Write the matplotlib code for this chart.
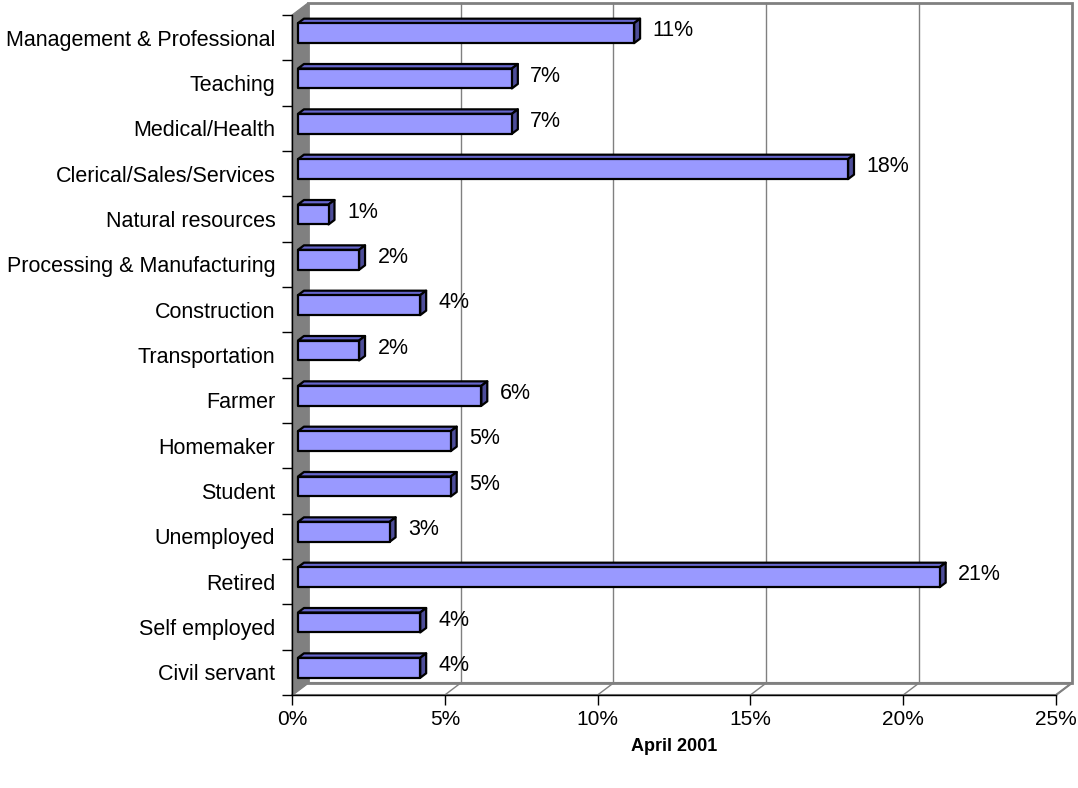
import matplotlib.pyplot as plt
from matplotlib.patches import Polygon

plt.rcParams['font.family'] = ['Liberation Sans', 'DejaVu Sans']

# categories listed bottom-to-top
categories = ["Civil servant", "Self employed", "Retired", "Unemployed", "Student",
              "Homemaker", "Farmer", "Transportation", "Construction",
              "Processing & Manufacturing", "Natural resources",
              "Clerical/Sales/Services", "Medical/Health", "Teaching",
              "Management & Professional"]
values = [4, 4, 21, 3, 5, 5, 6, 2, 4, 2, 1, 18, 7, 7, 11]
xticks = [0, 5, 10, 15, 20, 25]
xlabel = "April 2001"

# pseudo-3D depth offsets, in data units
DX, DY = 0.52, 0.265
D0, D1 = 0.375, 0.75
BAR_H = 0.44
XMAX = 25
N = len(categories)


def P(x, y, d):
    return (x + d * DX, y + d * DY)


fig = plt.figure(figsize=(10.78, 7.88), dpi=100)
ax = fig.add_axes([292 / 1078, 93 / 788, 764 / 1078, 680 / 788])
ax.set_xlim(0, XMAX)
ax.set_ylim(0, N)

grid_c = '#808080'
# left wall
ax.add_patch(Polygon([P(0, 0, 0), P(0, N, 0), P(0, N, 1), P(0, 0, 1)],
                     closed=True, facecolor='#808080', edgecolor='#808080',
                     lw=0.8, clip_on=False, zorder=1))
# floor
ax.add_patch(Polygon([P(0, 0, 0), P(XMAX, 0, 0), P(XMAX, 0, 1), P(0, 0, 1)],
                     closed=True, facecolor='white', edgecolor=grid_c,
                     lw=1.5, clip_on=False, zorder=1))
# back wall
ax.add_patch(Polygon([P(0, 0, 1), P(XMAX, 0, 1), P(XMAX, N, 1), P(0, N, 1)],
                     closed=True, facecolor='none', edgecolor=grid_c,
                     lw=2, clip_on=False, zorder=1))
for t in xticks[1:-1]:
    x0, y0 = P(t, 0, 1)
    x1, y1 = P(t, N, 1)
    ax.plot([x0, x1], [y0, y1], color=grid_c, lw=1, clip_on=False, zorder=1)
for t in xticks:
    a = P(t, 0, 0)
    b = P(t, 0, 1)
    ax.plot([a[0], b[0]], [a[1], b[1]], color=grid_c, lw=1, clip_on=False, zorder=1)

bar_front = '#9999FF'
bar_top = '#6666CC'
bar_side = '#4D4D99'
for i, v in enumerate(values):
    yc = i + 0.5
    yb, yt = yc - BAR_H / 2, yc + BAR_H / 2
    front = [P(0, yb, D0), P(v, yb, D0), P(v, yt, D0), P(0, yt, D0)]
    top = [P(0, yt, D0), P(v, yt, D0), P(v, yt, D1), P(0, yt, D1)]
    side = [P(v, yb, D0), P(v, yt, D0), P(v, yt, D1), P(v, yb, D1)]
    for poly, c in ((top, bar_top), (side, bar_side), (front, bar_front)):
        ax.add_patch(Polygon(poly, closed=True, facecolor=c, edgecolor='black',
                             lw=1.6, joinstyle='round', clip_on=False, zorder=3))
    lx, ly = P(v, yc, D1)
    ax.annotate(f"{v}%", (lx, ly), xytext=(9, -1.5), textcoords='offset points',
                ha='left', va='center', fontsize=15.5, zorder=4)

for s in ('top', 'right'):
    ax.spines[s].set_visible(False)
for s in ('left', 'bottom'):
    ax.spines[s].set_color('black')
    ax.spines[s].set_linewidth(1)
    ax.spines[s].set_zorder(5)

ax.set_xticks(xticks)
ax.set_xticklabels([f"{t}%" for t in xticks], fontsize=15)
ax.tick_params(axis='x', length=7, width=1, pad=4)

ax.set_yticks(range(N + 1))
ax.set_yticklabels([])
ax.tick_params(axis='y', which='major', length=7, width=1)
ax.set_yticks([i + 0.5 for i in range(N)], minor=True)
ax.set_yticklabels(categories, minor=True, fontsize=15.5)
ax.tick_params(axis='y', which='minor', length=0, pad=12)

ax.set_xlabel(xlabel, fontsize=13, fontweight='bold', labelpad=6)

fig.savefig('out.png', dpi=100)
